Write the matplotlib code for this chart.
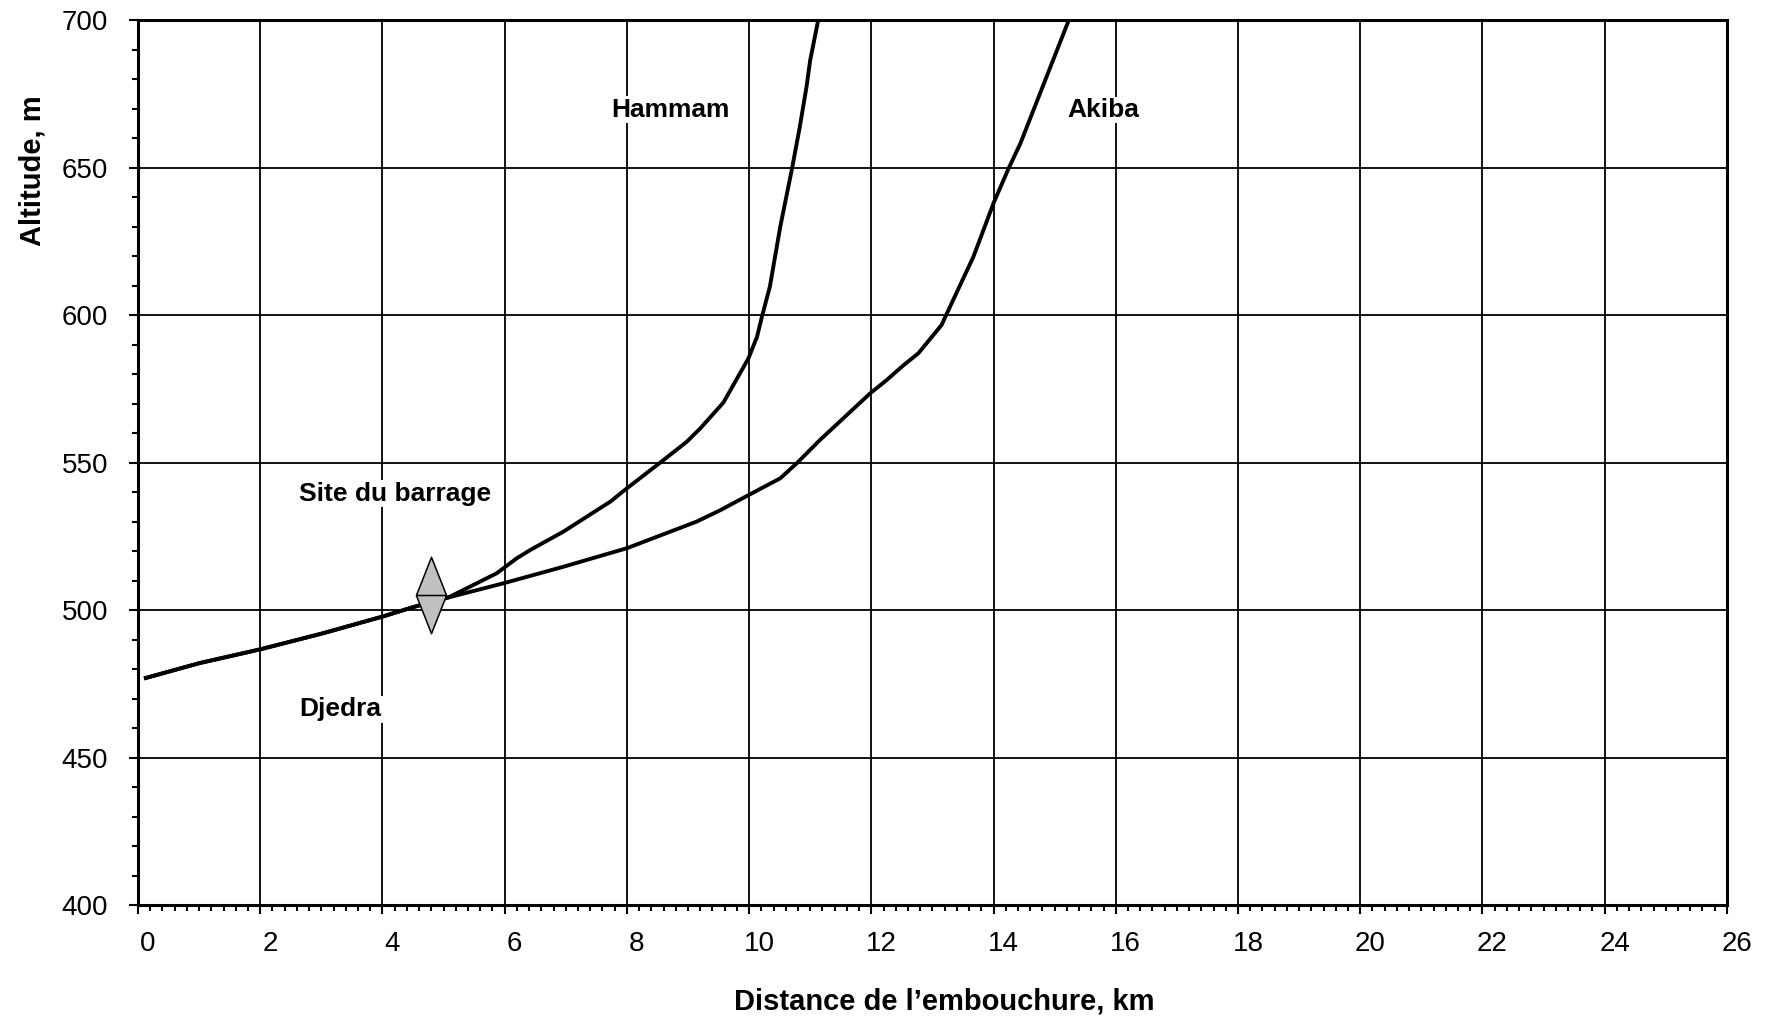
import matplotlib.pyplot as plt
import matplotlib.transforms as mtransforms
from matplotlib.path import Path
from matplotlib.ticker import MultipleLocator
import numpy as np

plt.rcParams['font.family'] = ['Liberation Sans', 'DejaVu Sans']

# Common reach downstream of the junction (Djedra)
common_km = [0.13, 1.0, 2.0, 3.0, 4.0, 4.5, 5.08]
common_alt = [477, 482, 486.7, 492, 497.8, 501, 504.3]

# Hammam branch
hammam_km = [5.87, 6.2, 6.42, 6.96, 7.73, 8.0, 8.6, 8.98, 9.2, 9.58, 9.99,
             10.13, 10.21, 10.34, 10.51, 10.70, 10.83, 10.94, 11.0, 11.13]
hammam_alt = [512.5, 517.6, 520.4, 526.6, 536.8, 541.3, 550.9, 557.1, 561.6,
              570.4, 585.4, 592.7, 599.5, 609.7, 630, 649.5, 663.9, 677.5,
              686.5, 700]

# Akiba branch
akiba_km = [5.98, 6.96, 8.0, 9.14, 9.53, 9.99, 10.51, 10.78, 11.16, 11.98,
            12.25, 12.53, 12.77, 13.15, 13.34, 13.67, 14.0, 14.24, 14.44, 15.23]
akiba_alt = [509.1, 514.7, 521, 530, 533.9, 539, 544.7, 549.8, 557.7, 573.5,
             578, 583.1, 587.1, 596.7, 605.2, 619.8, 638, 649.5, 658.3, 700]

# Dam site
dam_km = 4.8
dam_alt = 505

# Labels: (text, km, altitude)
labels = [('Hammam', 8.71, 669.7), ('Akiba', 15.79, 669.6),
          ('Site du barrage', 4.21, 539.5), ('Djedra', 3.31, 466.4)]

fig = plt.figure(figsize=(17.71, 10.17), dpi=100)
ax = fig.add_axes([0.0779, 0.1101, 0.8972, 0.8699])

lw = 2.8
ax.plot(common_km + hammam_km, common_alt + hammam_alt, color='black', linewidth=lw, zorder=3)
ax.plot(common_km + akiba_km, common_alt + akiba_alt, color='black', linewidth=lw, zorder=3)

# diamond split by a horizontal line
verts = [(0, 1), (0.395, 0), (0, -1), (-0.395, 0), (0, 1), (-0.395, 0), (0.395, 0)]
codes = [Path.MOVETO, Path.LINETO, Path.LINETO, Path.LINETO, Path.CLOSEPOLY,
         Path.MOVETO, Path.LINETO]
dam_marker = Path(verts, codes)
ax.plot([dam_km], [dam_alt], marker=dam_marker, markersize=55,
        markerfacecolor='#c0c0c0', markeredgecolor='black', markeredgewidth=1.1,
        linestyle='none', zorder=4)

for txt, x, y in labels:
    ax.text(x, y, txt, fontsize=19, fontweight='bold', ha='center', va='center',
            bbox=dict(facecolor='white', edgecolor='none', pad=1), zorder=2)

ax.set_xlim(0, 26)
ax.set_ylim(400, 700)
ax.xaxis.set_major_locator(MultipleLocator(2))
ax.xaxis.set_minor_locator(MultipleLocator(0.2))
ax.yaxis.set_major_locator(MultipleLocator(50))
ax.yaxis.set_minor_locator(MultipleLocator(10))

ax.grid(True, which='major', color='black', linewidth=1.3)
ax.set_axisbelow(True)
for s in ax.spines.values():
    s.set_linewidth(2.2)

ax.tick_params(axis='both', which='major', direction='out', length=6.5, width=1.5,
               labelsize=20, colors='black')
ax.tick_params(axis='both', which='minor', direction='out', length=4.5, width=1.5)
ax.tick_params(axis='x', which='major', pad=12)
ax.tick_params(axis='y', which='major', pad=15)

offset = mtransforms.ScaledTranslation(0.10, 0, fig.dpi_scale_trans)
for lab in ax.get_xticklabels():
    lab.set_transform(lab.get_transform() + offset)

ax.set_xlabel('Distance de l’embouchure, km', fontsize=21, fontweight='bold')
ax.set_ylabel('Altitude, m', fontsize=21, fontweight='bold')
ax.xaxis.set_label_coords(0.5075, -0.0927)
ax.yaxis.set_label_coords(-0.0573, 0.8305)

fig.savefig('out.png', dpi=100, facecolor='white')
